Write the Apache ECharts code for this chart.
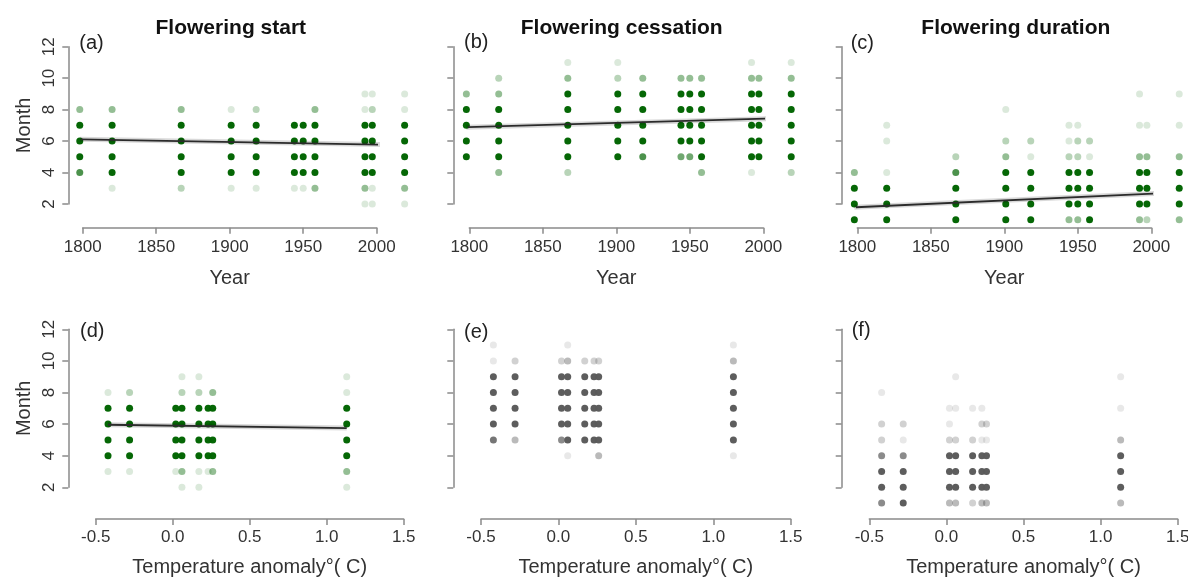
<!DOCTYPE html>
<html><head><meta charset="utf-8">
<script src="https://cdn.jsdelivr.net/npm/echarts@6/dist/echarts.min.js"></script>
<style>html,body{margin:0;padding:0;background:#fff}#c{width:1188px;height:581px}</style>
</head><body><div id="c"></div>
<script>
// ---------- data ----------
const yearTicks = [1800, 1850, 1900, 1950, 2000];
const anomalyTicks = [-0.5, 0.0, 0.5, 1.0, 1.5];
const monthTicks = [2, 4, 6, 8, 10, 12];

const years = [1798, 1820, 1867, 1901, 1918, 1944, 1950, 1958, 1992, 1997, 2019];
const anomalies = [-0.42, -0.28, 0.02, 0.06, 0.17, 0.23, 0.26, 1.13];

// months recorded per column, and number of overlapping records (shading)
const startMonths = [[8,7,6,5,4],[8,7,6,5,4,3],[8,7,6,5,4,3],[8,7,6,5,4,3],[8,7,6,5,4,3],[7,6,5,4,3],[7,6,5,4,3],[8,7,6,5,4,3],[9,8,7,6,5,4,3,2],[9,8,7,6,5,4,3,2],[9,8,7,6,5,4,3,2]];
const startCounts = [[3,7,7,7,5],[3,7,7,7,7,1],[3,7,7,7,7,2],[1,7,7,7,7,1],[2,7,7,7,7,1],[7,7,7,7,1],[7,7,7,7,1],[3,7,7,7,7,3],[1,1,7,7,7,7,3,1],[1,2,7,7,7,7,1,1],[1,1,7,7,7,7,3,1]];

const cessMonths = [[9,8,7,6,5],[10,9,8,7,6,5,4],[11,10,9,8,7,6,5,4],[11,10,9,8,7,6,5],[10,9,8,7,6,5],[10,9,8,7,6,5],[10,9,8,7,6,5],[10,9,8,7,6,5,4],[11,10,9,8,7,6,5,4],[10,9,8,7,6,5],[11,10,9,8,7,6,5,4]];
const cessCounts = [[3,7,7,7,7],[2,3,7,7,7,7,3],[1,3,7,7,7,7,7,2],[1,2,7,7,7,7,7],[3,7,7,7,7,5],[3,7,7,7,7,4],[3,7,7,7,7,4],[3,7,7,7,7,7,3],[1,3,7,7,7,7,7,1],[3,7,7,7,7,7],[1,3,7,7,7,7,7,2]];

const durMonths = [[4,3,2,1],[7,6,4,3,2,1],[5,4,3,2,1],[8,6,5,4,3,2,1],[6,5,4,3,2,1],[7,6,5,4,3,2,1],[7,6,5,4,3,2,1],[6,5,4,3,2,1],[9,7,5,4,3,2,1],[7,5,4,3,2,1],[9,7,5,4,3,2,1]];
const durCounts = [[3,7,7,7],[1,1,1,7,7,7],[2,5,7,7,7],[1,2,3,7,7,7,7],[2,1,7,7,7,7],[1,1,2,7,7,7,3],[1,2,2,7,7,7,3],[2,1,7,7,7,7],[1,1,3,7,7,7,3],[1,3,7,7,7,2],[1,1,3,7,7,7,3]];

const startTMonths = [[8,7,6,5,4,3],[8,7,6,5,4,3],[7,6,5,4,3],[9,8,7,6,5,4,3,2],[9,8,7,6,5,4,3,2],[7,6,5,4,3],[8,7,6,5,4,3],[9,8,7,6,5,4,3,2]];
const startTCounts = [[1,7,7,7,7,1],[2,7,7,7,7,1],[7,7,7,7,1],[1,2,7,7,7,7,3,1],[1,2,7,7,7,7,1,1],[7,7,7,7,1],[3,7,7,7,7,3],[1,1,7,7,7,7,3,1]];

const cessTMonths = [[11,10,9,8,7,6,5],[10,9,8,7,6,5],[10,9,8,7,6,5],[11,10,9,8,7,6,5,4],[10,9,8,7,6,5],[10,9,8,7,6,5],[10,9,8,7,6,5,4],[11,10,9,8,7,6,5,4]];
const cessTCounts = [[1,1,7,7,7,7,6],[2,7,7,7,7,3],[2,7,7,7,7,5],[1,3,7,7,7,7,7,1],[2,7,7,7,7,7],[2,7,7,7,7,7],[2,7,7,7,7,7,3],[1,3,7,7,7,7,7,1]];

const durTMonths = [[8,6,5,4,3,2,1],[6,5,4,3,2,1],[7,6,5,4,3,2,1],[9,7,5,4,3,2,1],[7,5,4,3,2,1],[7,6,5,4,3,2,1],[6,5,4,3,2,1],[9,7,5,4,3,2,1]];
const durTCounts = [[1,2,2,5,7,7,5],[2,1,5,7,7,7],[1,1,2,7,7,7,3],[1,1,2,7,7,7,3],[1,2,7,7,7,2],[1,2,1,7,7,7,3],[2,1,7,7,7,3],[1,1,3,7,7,7,3]];

// fitted trends (endpoints)
const startFit = [[1798, 6.11], [2019, 5.75]];
const cessFit = [[1798, 6.88], [2019, 7.47]];
const durFit = [[1798, 1.79], [2019, 2.74]];
const startTFit = [[-0.42, 5.96], [1.13, 5.75]];

const titles = ['Flowering start', 'Flowering cessation', 'Flowering duration'];
const panelLabels = ['(a)', '(b)', '(c)', '(d)', '(e)', '(f)'];

// ---------- layout / style ----------
const FONT = '"Liberation Sans", Arial, Helvetica, sans-serif';
const GREEN = '#006400', GREY = '#5a5a5a', AXIS = '#8a8a8a', TXT = '#333';

const panels = [
  {xs: years, m: startMonths, n: startCounts, fit: startFit, color: GREEN, grid: {left: 82.7, top: 46.7, width: 294, height: 157.3}, xOff: 23.7, yOff: 14.4, xt: yearTicks, xName: 'Year', yLab: true, nameGap: 41},
  {xs: years, m: cessMonths, n: cessCounts, fit: cessFit, color: GREEN, grid: {left: 469.3, top: 46.7, width: 294, height: 157.3}, xOff: 23.7, yOff: 16, xt: yearTicks, xName: 'Year', yLab: false, nameGap: 41},
  {xs: years, m: durMonths, n: durCounts, fit: durFit, color: GREEN, grid: {left: 857.3, top: 46.7, width: 294, height: 157.3}, xOff: 23.7, yOff: 15.6, xt: yearTicks, xName: 'Year', yLab: false, nameGap: 41},
  {xs: anomalies, m: startTMonths, n: startTCounts, fit: startTFit, color: GREEN, grid: {left: 95.7, top: 329.3, width: 308, height: 158}, xOff: 31.7, yOff: 27.4, xt: anomalyTicks, xName: 'Temperature anomaly°( C)', yLab: true, nameGap: 38},
  {xs: anomalies, m: cessTMonths, n: cessTCounts, fit: null, color: GREY, grid: {left: 481, top: 329.3, width: 309.7, height: 158}, xOff: 31.7, yOff: 27.7, xt: anomalyTicks, xName: 'Temperature anomaly°( C)', yLab: false, nameGap: 38},
  {xs: anomalies, m: durTMonths, n: durTCounts, fit: null, color: GREY, grid: {left: 869.3, top: 329.3, width: 308.4, height: 158}, xOff: 31.7, yOff: 27.6, xt: anomalyTicks, xName: 'Temperature anomaly°( C)', yLab: false, nameGap: 38}
];

const grids = [], xAxes = [], yAxes = [], series = [];
panels.forEach((p, i) => {
  grids.push(Object.assign({outerBoundsMode: 'none', containLabel: false}, p.grid));
  const isYear = p.xt === yearTicks;
  xAxes.push({
    gridIndex: i, type: 'value', min: p.xt[0], max: p.xt[p.xt.length - 1], interval: p.xt[1] - p.xt[0],
    offset: p.xOff,
    axisLine: {show: true, onZero: false, lineStyle: {color: AXIS, width: 1.5}},
    axisTick: {show: true, length: 6, lineStyle: {color: AXIS, width: 1.5}},
    axisLabel: {show: true, fontSize: 17, color: TXT, fontFamily: FONT, margin: isYear ? 11 : 10,
      formatter: v => isYear ? String(v) : v.toFixed(1)},
    splitLine: {show: false},
    name: p.xName, nameLocation: 'middle', nameGap: p.nameGap,
    nameTextStyle: {fontSize: 20, color: TXT, fontFamily: FONT}
  });
  yAxes.push({
    gridIndex: i, type: 'value', min: monthTicks[0], max: monthTicks[monthTicks.length - 1], interval: monthTicks[1] - monthTicks[0],
    offset: p.yOff,
    axisLine: {show: true, onZero: false, lineStyle: {color: AXIS, width: 1.5}},
    axisTick: {show: true, length: 6, lineStyle: {color: AXIS, width: 1.5}},
    axisLabel: {show: p.yLab, rotate: 90, fontSize: 17, color: TXT, fontFamily: FONT, margin: 10},
    splitLine: {show: false},
    name: p.yLab ? 'Month' : '', nameLocation: 'middle', nameRotate: 90, nameGap: 34,
    nameTextStyle: {fontSize: 20, color: TXT, fontFamily: FONT}
  });
  const data = [];
  p.xs.forEach((x, c) => {
    p.m[c].forEach((mo, k) => {
      data.push({value: [x, mo], itemStyle: {opacity: Math.min(1, 0.14 * p.n[c][k])}});
    });
  });
  series.push({type: 'scatter', xAxisIndex: i, yAxisIndex: i, data, symbol: 'circle', symbolSize: 7,
    itemStyle: {color: p.color}, clip: false, silent: true, animation: false});
  if (p.fit) {
    series.push({type: 'line', xAxisIndex: i, yAxisIndex: i, data: p.fit, symbol: 'none', clip: false,
      lineStyle: {color: 'rgba(0,0,0,0.15)', width: 5}, silent: true, animation: false, z: 3});
    series.push({type: 'line', xAxisIndex: i, yAxisIndex: i, data: p.fit, symbol: 'none', clip: false,
      lineStyle: {color: '#2b2b2b', width: 1.8}, silent: true, animation: false, z: 4});
  }
});

const titlePos = [[230.8, 28], [621.7, 28], [1015.8, 28]];
const labelPos = [[79.3, 43], [464, 42], [850.7, 43], [80, 331], [464, 332], [851.7, 330]];
const graphic = [];
titles.forEach((t, i) => graphic.push({type: 'text', x: titlePos[i][0], y: titlePos[i][1],
  style: {text: t, fontSize: 21, fontWeight: 'bold', fontFamily: FONT, fill: '#111', align: 'center', verticalAlign: 'middle'}}));
panelLabels.forEach((t, i) => graphic.push({type: 'text', x: labelPos[i][0], y: labelPos[i][1],
  style: {text: t, fontSize: 20, fontFamily: FONT, fill: '#222', align: 'left', verticalAlign: 'middle'}}));

const chart = echarts.init(document.getElementById('c'), null, {renderer: 'canvas'});
chart.setOption({backgroundColor: '#fff', animation: false, grid: grids, xAxis: xAxes, yAxis: yAxes, series, graphic});
</script></body></html>
